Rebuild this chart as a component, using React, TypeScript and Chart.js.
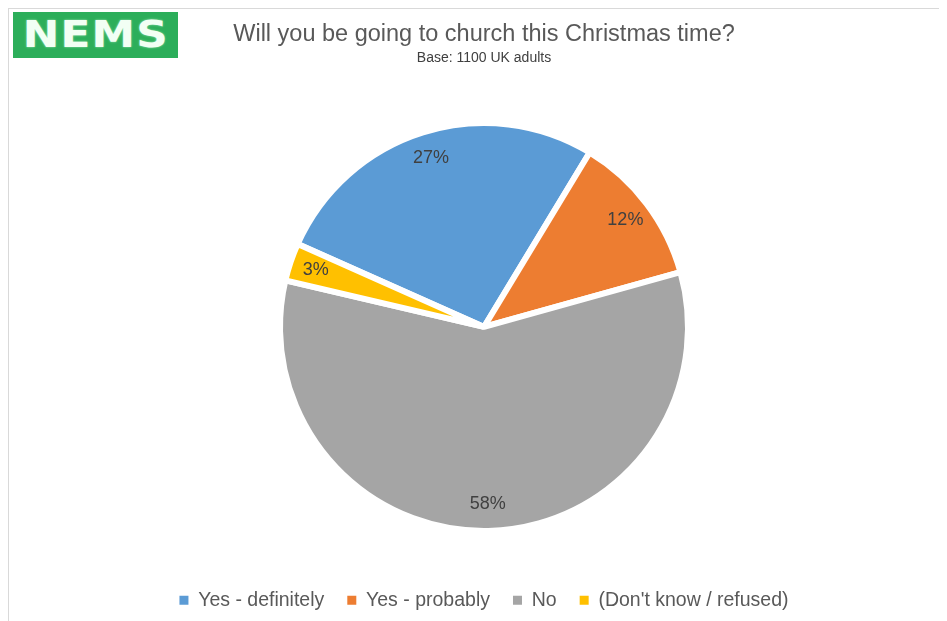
import React, { useEffect, useRef } from "react";
import { Chart, registerables } from "chart.js";

Chart.register(...registerables);

const categories = ["Yes - definitely", "Yes - probably", "No", "(Don't know / refused)"];
const values = [27, 12, 58, 3];
const valueLabels = ["27%", "12%", "58%", "3%"];
const colors = ["#5B9BD5", "#ED7D31", "#A5A5A5", "#FFC000"];
const titleText = "Will you be going to church this Christmas time?";
const subtitleText = "Base: 1100 UK adults";

const FONT = "'Liberation Sans', Arial, sans-serif";

const labelPlugin = {
  id: "sliceLabels",
  afterDatasetsDraw(chart: any) {
    const ctx = chart.ctx;
    const meta = chart.getDatasetMeta(0);
    ctx.save();
    ctx.font = `18px ${FONT}`;
    ctx.fillStyle = "#404040";
    ctx.textAlign = "center";
    ctx.textBaseline = "middle";
    meta.data.forEach((arc: any, i: number) => {
      const { x, y, startAngle, endAngle, outerRadius } = arc.getProps(
        ["x", "y", "startAngle", "endAngle", "outerRadius"],
        true
      );
      const mid = (startAngle + endAngle) / 2;
      const r = outerRadius * 0.87;
      ctx.fillText(valueLabels[i], x + Math.cos(mid) * r, y + Math.sin(mid) * r);
    });
    ctx.restore();
  },
};

export default function App() {
  const ref = useRef<HTMLCanvasElement | null>(null);
  useEffect(() => {
    if (!ref.current) return;
    const chart = new Chart(ref.current, {
      type: "pie",
      data: {
        labels: categories,
        datasets: [
          {
            data: values,
            backgroundColor: colors,
            borderColor: "#FFFFFF",
            borderWidth: 6,
            radius: 204,
          } as any,
        ],
      },
      options: {
        animation: false,
        responsive: false,
        rotation: -66,
        layout: { padding: { top: 8, left: 12, right: 0, bottom: 1 } },
        plugins: {
          tooltip: { enabled: false },
          title: {
            display: true,
            text: titleText,
            color: "#595959",
            font: { family: FONT, size: 23.5, weight: "normal" },
            padding: { top: 3, bottom: 0 },
          },
          subtitle: {
            display: true,
            text: subtitleText,
            color: "#404040",
            font: { family: FONT, size: 14, weight: "normal" },
            padding: { top: 1.4, bottom: 20 },
          },
          legend: {
            position: "bottom",
            labels: {
              color: "#595959",
              font: { family: FONT, size: 19.5 },
              boxWidth: 9,
              boxHeight: 9,
              padding: 23,
              generateLabels: (chart: any) => {
                const base = (Chart as any).overrides.pie.plugins.legend.labels.generateLabels(chart);
                return base.map((l: any) => ({ ...l, lineWidth: 0, strokeStyle: "rgba(0,0,0,0)" }));
              },
            },
          },
        },
      },
      plugins: [labelPlugin],
    });
    return () => chart.destroy();
  }, []);

  return (
    <div
      style={{
        position: "relative",
        width: 939,
        height: 613,
        borderTop: "1px solid #D9D9D9",
        borderLeft: "1px solid #D9D9D9",
      }}
    >
      <canvas ref={ref} width={938} height={612} style={{ display: "block" }} />
      <div
        style={{
          position: "absolute",
          left: 4,
          top: 3,
          width: 165,
          height: 46,
          background: "#2CAE5A",
          display: "flex",
          alignItems: "center",
          justifyContent: "center",
          overflow: "hidden",
        }}
      >
        <span
          style={{
            fontFamily: "'DejaVu Sans', sans-serif",
            fontWeight: "bold",
            fontSize: 37,
            color: "#F2FFF4",
            letterSpacing: 1,
            display: "inline-block",
            transform: "scaleX(1.18)",
            textShadow: "0 0 2px #A8E6BC",
            lineHeight: "46px",
          }}
        >
          NEMS
        </span>
      </div>
    </div>
  );
}
